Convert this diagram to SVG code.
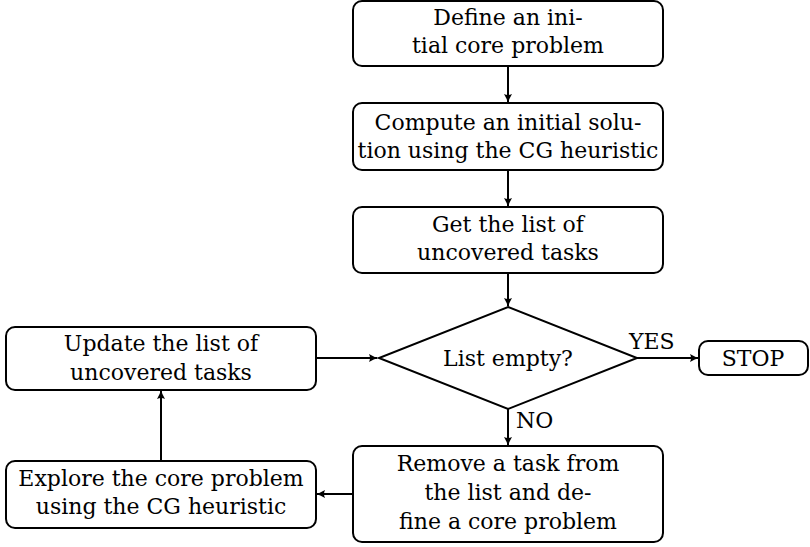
<svg xmlns="http://www.w3.org/2000/svg" width="810" height="547" viewBox="0 0 810 547">
<style>
.box{fill:#fff;stroke:#000;stroke-width:2}
.t{font-family:'DejaVu Serif','Liberation Serif',serif;font-size:22px;fill:#000;text-anchor:middle}
.l{font-family:'DejaVu Serif','Liberation Serif',serif;font-size:22px;fill:#000}
.c{fill:none;stroke:#000;stroke-width:2;marker-end:url(#ah)}
</style>
<defs>
<marker id="ah" markerWidth="10" markerHeight="10" refX="8" refY="5" orient="auto" markerUnits="userSpaceOnUse">
<path d="M0,1 Q5,4 9,5 Q5,6 0,9 Q2,5 0,1Z" fill="#000"/>
</marker>
</defs>
<g id="connectors">
<path class="c" d="M508,67 V102"/>
<path class="c" d="M508,171 V206"/>
<path class="c" d="M508,273 V306"/>
<path class="c" d="M637,358 H698"/>
<path class="c" d="M508,409 V445"/>
<path class="c" d="M352,494 H317"/>
<path class="c" d="M161,461 V391"/>
<path class="c" d="M317,358 H377"/>
<text class="l" x="629" y="349">YES</text>
<text class="l" x="516" y="428">NO</text>
</g>
<g id="n1">
<rect class="box" x="353" y="1" width="310" height="65" rx="9"/>
<text class="t" x="508" y="25">Define an ini-</text>
<text class="t" x="508" y="53">tial core problem</text>
</g>
<g id="n2">
<rect class="box" x="353" y="103" width="310" height="67" rx="9"/>
<text class="t" x="508" y="130">Compute an initial solu-</text>
<text class="t" x="508" y="158">tion using the CG heuristic</text>
</g>
<g id="n3">
<rect class="box" x="353" y="207" width="310" height="66" rx="9"/>
<text class="t" x="508" y="232">Get the list of</text>
<text class="t" x="508" y="260">uncovered tasks</text>
</g>
<g id="n4">
<polygon class="box" points="508,307 637,358 508,409 379,358"/>
<text class="t" x="508" y="366">List empty?</text>
</g>
<g id="n5">
<rect class="box" x="699" y="341" width="109" height="34" rx="9"/>
<text class="t" x="753" y="366">STOP</text>
</g>
<g id="n6">
<rect class="box" x="353" y="446" width="310" height="96" rx="9"/>
<text class="t" x="508" y="471">Remove a task from</text>
<text class="t" x="508" y="500">the list and de-</text>
<text class="t" x="508" y="529">fine a core problem</text>
</g>
<g id="n7">
<rect class="box" x="6" y="327" width="310" height="63" rx="9"/>
<text class="t" x="161" y="351">Update the list of</text>
<text class="t" x="161" y="380">uncovered tasks</text>
</g>
<g id="n8">
<rect class="box" x="6" y="461" width="310" height="67" rx="9"/>
<text class="t" x="161" y="486">Explore the core problem</text>
<text class="t" x="161" y="514">using the CG heuristic</text>
</g>
</svg>
